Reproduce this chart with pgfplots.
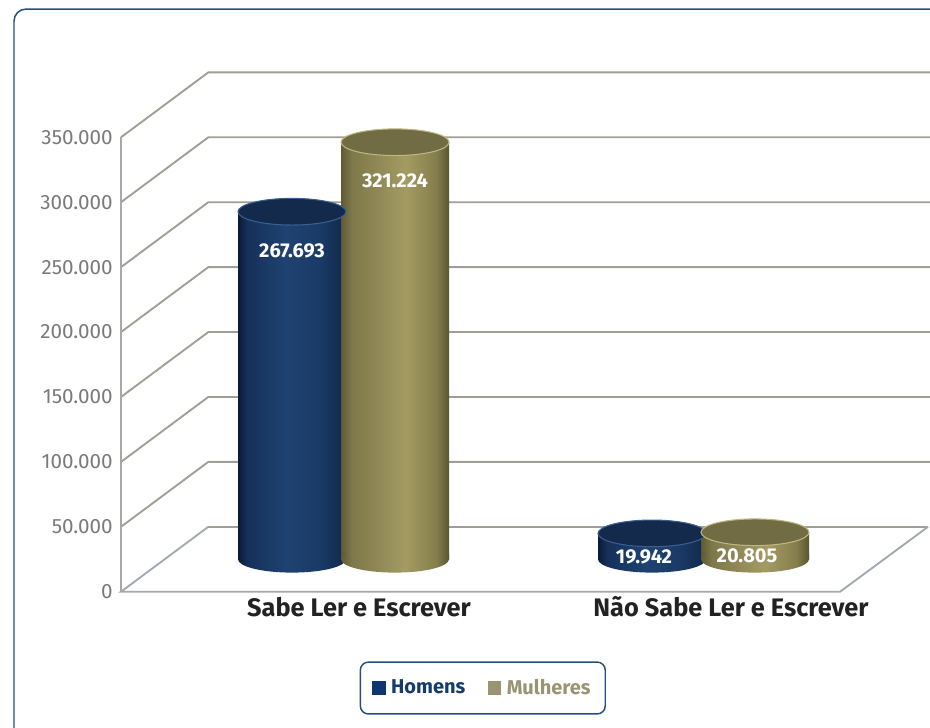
\documentclass[border=0pt]{standalone}
\usepackage{pgfplots}
\pgfplotsset{compat=1.18}
\usepackage{fontspec}
\setmainfont{Fira Sans}
\definecolor{gridc}{HTML}{A09F95}
\definecolor{floorc}{HTML}{A4A8B0}
\definecolor{axc}{HTML}{A8A8A8}
\definecolor{tickc}{HTML}{7A7A7A}
\definecolor{catc}{HTML}{222222}
\definecolor{framec}{HTML}{24507E}
\definecolor{legH}{HTML}{0F3570}
\definecolor{legHt}{HTML}{143A6E}
\definecolor{legM}{HTML}{9A9374}
\definecolor{hA}{HTML}{0B1A33}
\definecolor{hB}{HTML}{15305A}
\definecolor{hC}{HTML}{1E4271}
\definecolor{hD}{HTML}{1A3B67}
\definecolor{hE}{HTML}{132C52}
\definecolor{hF}{HTML}{0E2242}
\definecolor{mA}{HTML}{5F5A35}
\definecolor{mB}{HTML}{7E784A}
\definecolor{mD}{HTML}{A39B62}
\definecolor{mE}{HTML}{857E4C}
\definecolor{mF}{HTML}{5A5632}
\definecolor{topH}{HTML}{132A4C}
\definecolor{rimH}{HTML}{3A5F8F}
\definecolor{topM}{HTML}{716C43}
\definecolor{rimM}{HTML}{BDB67F}
\pgfdeclarehorizontalshading{cylH}{100bp}{color(0bp)=(hA); color(25bp)=(hA); color(29bp)=(hB); color(47bp)=(hC); color(62bp)=(hD); color(72bp)=(hE); color(75bp)=(hF); color(100bp)=(hF)}
\pgfdeclarehorizontalshading{cylM}{100bp}{color(0bp)=(mA); color(25bp)=(mA); color(30bp)=(mB); color(55bp)=(mD); color(69bp)=(mE); color(75bp)=(mF); color(100bp)=(mF)}
\pgfdeclareplotmark{ctop}{\pgfpathellipse{\pgfpointorigin}{\pgfqpoint{40.5pt}{0pt}}{\pgfqpoint{0pt}{10pt}}\pgfusepath{fill,stroke}}
\pgfdeclareplotmark{cbotH}{\pgfpathmoveto{\pgfqpoint{-40.5pt}{4pt}}\pgfpathlineto{\pgfqpoint{-40.5pt}{0pt}}\pgfpatharc{180}{360}{40.5pt and 10pt}\pgfpathlineto{\pgfqpoint{40.5pt}{4pt}}\pgfpathclose\pgfshadepath{cylH}{0}\pgfusepath{discard}}
\pgfdeclareplotmark{cbotM}{\pgfpathmoveto{\pgfqpoint{-40.5pt}{4pt}}\pgfpathlineto{\pgfqpoint{-40.5pt}{0pt}}\pgfpatharc{180}{360}{40.5pt and 10pt}\pgfpathlineto{\pgfqpoint{40.5pt}{4pt}}\pgfpathclose\pgfshadepath{cylM}{0}\pgfusepath{discard}}
\pgfplotsset{
  bodyH/.style={forget plot, ybar, bar width=81pt, bar shift=0pt, draw=none, shade, shading=cylH},
  bodyM/.style={forget plot, ybar, bar width=81pt, bar shift=0pt, draw=none, shade, shading=cylM},
  gl/.style={forget plot, gridc, line width=1.4pt},
}
\begin{document}
\begin{tikzpicture}
\clip (-90.75pt,-101.5pt) rectangle (606.75pt,443.8pt);
\begin{axis}[
  at={(0pt,0pt)}, anchor=south west,
  scale only axis, width=606.75pt, height=389.5pt,
  xmin=0, xmax=809, ymin=-25000, ymax=375000,
  clip=false,
  scaled y ticks=false,
  axis line style={draw=none},
  major tick length=0pt,
  ytick={-25000,25000,75000,125000,175000,225000,275000,325000},
  yticklabels={0,50.000,100.000,150.000,200.000,250.000,300.000,350.000},
  yticklabel style={anchor=east, inner sep=0pt, xshift=-6pt, text=tickc, font=\fontsize{15.5}{15.5}\selectfont},
  xtick={238,610},
  xticklabels={Sabe Ler e Escrever, Não Sabe Ler e Escrever},
  xticklabel style={anchor=base, inner sep=0pt, yshift=-18.2pt, text=catc, font=\bfseries\fontsize{19}{19}\selectfont},
  legend style={at={(0.4472,-0.1854)}, anchor=center, draw=framec, line width=1.1pt, rounded corners=6pt, inner xsep=9pt, inner ysep=11pt, font=\bfseries\fontsize{15}{15}\selectfont, /tikz/every even column/.append style={column sep=15pt}, /tikz/every odd column/.append style={column sep=2pt}},
  legend columns=2,
]
% grid: back wall and diagonals
\addplot[gl] coordinates {(0,25000) (87.3,75000) (809,75000)};
\addplot[gl] coordinates {(0,75000) (87.3,125000) (809,125000)};
\addplot[gl] coordinates {(0,125000) (87.3,175000) (809,175000)};
\addplot[gl] coordinates {(0,175000) (87.3,225000) (809,225000)};
\addplot[gl] coordinates {(0,225000) (87.3,275000) (809,275000)};
\addplot[gl] coordinates {(0,275000) (87.3,325000) (809,325000)};
\addplot[gl] coordinates {(0,325000) (87.3,375000) (809,375000)};
\addplot[gl] coordinates {(87.3,25000) (807,25000)};
\addplot[forget plot, floorc, line width=1.4pt] coordinates {(87.3,25000) (0,-25000) (719,-25000) (807,25000)};
\addplot[forget plot, axc, line width=1.4pt] coordinates {(0,-25000) (0,325000)};
% legend entries
\addlegendimage{legend image code/.code={\fill[legH, sharp corners] (0pt,-4.5pt) rectangle (9pt,4.5pt);}}
\addlegendentry{\textcolor{legHt}{Homens}}
\addlegendimage{legend image code/.code={\fill[legM, sharp corners] (0pt,-4.5pt) rectangle (9pt,4.5pt);}}
\addlegendentry{\textcolor{legM}{Mulheres}}
% Homens
\addplot[bodyH] coordinates {(171,267693)};
\addplot[bodyH] coordinates {(531,19942)};
\addplot[forget plot, only marks, mark=cbotH] coordinates {(171,0) (531,0)};
\addplot[forget plot, only marks, mark=ctop, color=rimH, line width=0.8pt, mark options={fill=topH}] coordinates {(171,267693) (531,19942)};
% Mulheres
\addplot[bodyM] coordinates {(274,321224)};
\addplot[bodyM] coordinates {(634,20805)};
\addplot[forget plot, only marks, mark=cbotM] coordinates {(274,0) (634,0)};
\addplot[forget plot, only marks, mark=ctop, color=rimM, line width=0.8pt, mark options={fill=topM}] coordinates {(274,321224) (634,20805)};
% value labels
\addplot[forget plot, draw=none, mark=none, nodes near coords, point meta=explicit symbolic,
  every node near coord/.append style={text=white, font=\bfseries\fontsize{15}{15}\selectfont, anchor=center, yshift=-29.25pt}]
  coordinates {(171,267693) [267.693] (274,321224) [321.224]};
\addplot[forget plot, draw=none, mark=none, nodes near coords, point meta=explicit symbolic,
  every node near coord/.append style={text=white, font=\bfseries\fontsize{15}{15}\selectfont, anchor=center, yshift=-17.6pt, xshift=-6pt}]
  coordinates {(531,19942) [19.942] (634,20805) [20.805]};
\end{axis}
\draw[framec, line width=1.1pt, rounded corners=9pt] (-80.25pt,-150pt) rectangle (650pt,437pt);
\end{tikzpicture}
\end{document}
